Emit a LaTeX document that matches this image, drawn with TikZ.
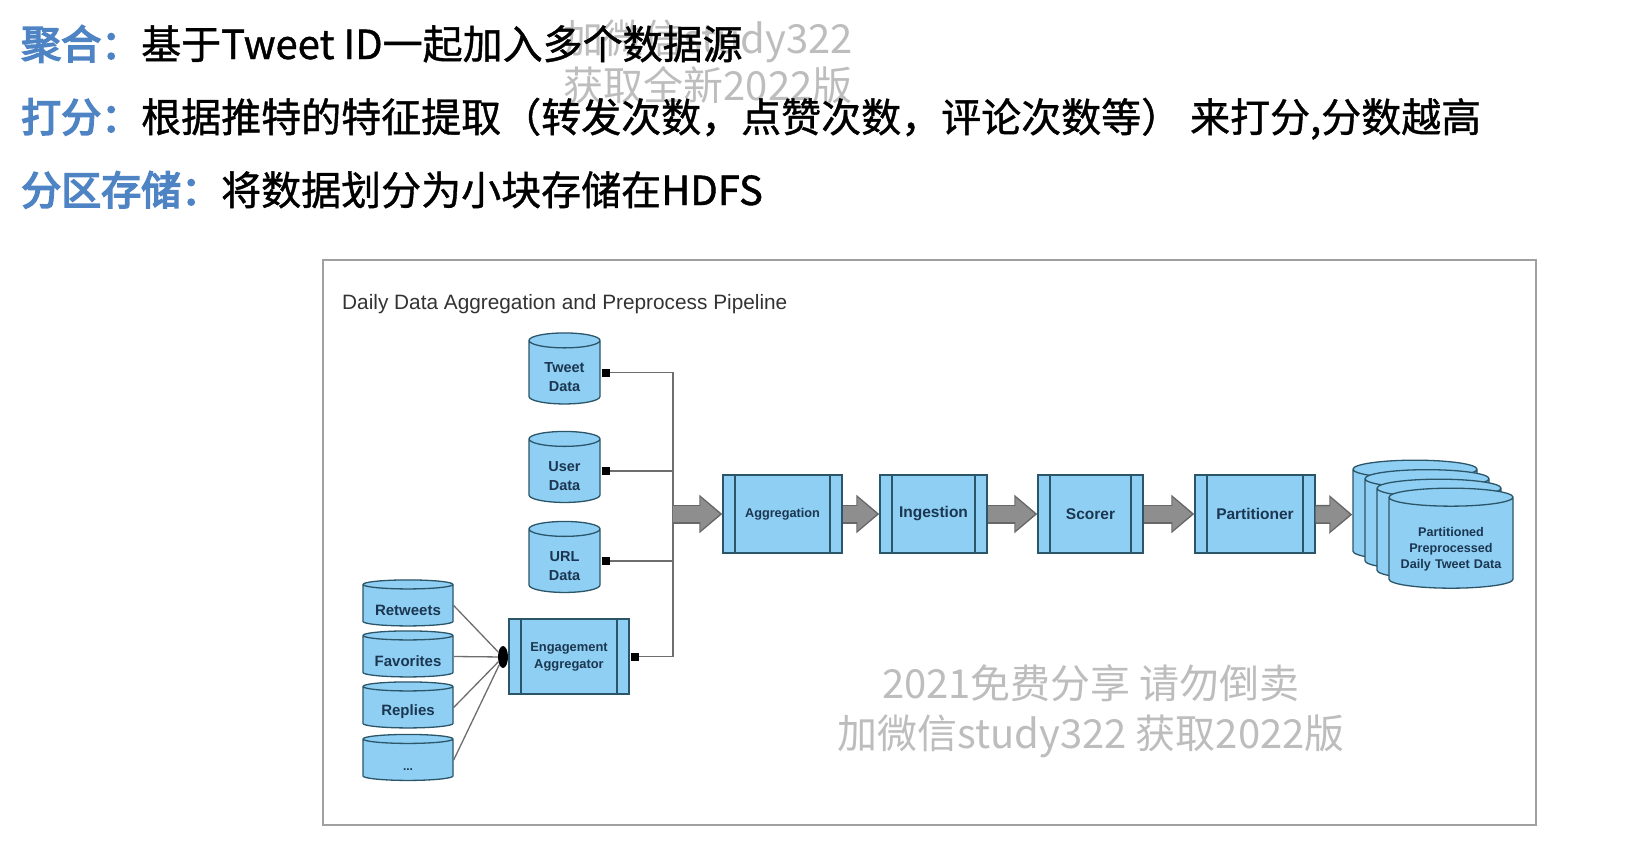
\documentclass[tikz,border=0pt]{standalone}
\usepackage{fontspec}
\setmainfont{Liberation Sans}
\newfontfamily\cjk[FakeBold=1]{Noto Sans CJK SC}
\newfontfamily\cjkbold[FakeBold=4]{Noto Sans CJK SC}
\newfontfamily\cjklight{Noto Sans CJK SC}
\usepackage{xcolor}
\usetikzlibrary{positioning, arrows.meta, shapes.geometric}
\definecolor{boxfill}{HTML}{8FCFF3}
\definecolor{boxline}{HTML}{2B5569}
\definecolor{boxtext}{HTML}{1B3650}
\definecolor{heading}{HTML}{4F84C4}
\definecolor{arrowfill}{HTML}{8E8E8E}
\definecolor{arrowline}{HTML}{676767}
\definecolor{linkgray}{HTML}{6E6E6E}
\definecolor{framegray}{HTML}{A0A0A0}
\definecolor{titlegray}{HTML}{333333}
\definecolor{wmgray}{HTML}{BDBDBD}

\begin{document}
\begin{tikzpicture}[
  x=1pt, y=-1pt,
  headline/.style={anchor=base west, inner sep=0pt, font=\cjk\fontsize{40}{48}\selectfont},
  watermark/.style={text=wmgray, align=center, inner sep=0pt},
  store/.style={cylinder, shape border rotate=90, draw=boxline, line width=1.3pt, fill=boxfill, aspect=0.21, text width=71pt, minimum width=71pt, minimum height=71pt, inner sep=0pt, align=center, text=boxtext, font=\bfseries\fontsize{14.5}{19}\selectfont, execute at begin node={\rule{0pt}{20pt}}},
  smallstore/.style={store, text width=90pt, minimum width=90pt, minimum height=46pt, aspect=0.1, font=\bfseries\fontsize{15}{18}\selectfont, execute at begin node={\rule{0pt}{14pt}}},
  bigstore/.style={store, text width=124pt, minimum width=124pt, minimum height=100pt, aspect=0.145, font=\bfseries\fontsize{12.6}{16}\selectfont, execute at begin node={\rule{0pt}{22pt}}},
  process/.style={rectangle, draw=boxline, line width=1.3pt, fill=boxfill, minimum height=78pt, inner sep=0pt, align=center, text=boxtext, font=\bfseries\fontsize{15.5}{18}\selectfont,
    path picture={\draw[boxline, line width=1.3pt] ([xshift=12pt]path picture bounding box.north west) -- ([xshift=12pt]path picture bounding box.south west) ([xshift=-12pt]path picture bounding box.north east) -- ([xshift=-12pt]path picture bounding box.south east);}},
  port/.style={rectangle, fill=black, minimum size=8pt, inner sep=0pt},
  link/.style={draw=linkgray, line width=1.3pt},
  fatedge/.style={arrowline, line width=19pt, -{Triangle[length=23pt, width=37pt]}},
  fatarrow/.style={arrowfill, line width=16pt, shorten >=2.5pt, -{Triangle[length=19.5pt, width=32pt]}}
]
  \useasboundingbox (0,0) rectangle (1634,846);
  \fill[white] (0,0) rectangle (1634,846);

  \node[watermark, font=\cjklight\fontsize{40}{46.5}\selectfont] (wmtop) at (708,62) {加微信study322\\获取全新2022版};
  \node[headline] (line1) at (21,59) {{\cjkbold\color{heading}聚合：}基于Tweet ID一起加入多个数据源};
  \node[headline] (line2) at (21,132) {{\cjkbold\color{heading}打分：}根据推特的特征提取（转发次数，点赞次数，评论次数等） 来打分,分数越高};
  \node[headline] (line3) at (21,205) {{\cjkbold\color{heading}分区存储：}将数据划分为小块存储在HDFS};

  \draw[framegray, line width=2pt] (323,260) rectangle (1536,825);
  \node[anchor=west, inner sep=0pt, text=titlegray, font=\fontsize{20.8}{24}\selectfont] (title) at (342,304) {Daily Data Aggregation and Preprocess Pipeline};

  \node[store] (tweet) at (564.5,372.5) {Tweet\\Data};
  \node[store] (user) at (564.5,471) {User\\Data};
  \node[store] (url) at (564.5,561) {URL\\Data};
  \node[port, right=1pt of tweet] (tweetport) {};
  \node[port, right=1pt of user] (userport) {};
  \node[port, right=1pt of url] (urlport) {};

  \node[smallstore] (retweets) at (408,605.5) {Retweets};
  \node[smallstore] (favorites) at (408,656.5) {Favorites};
  \node[smallstore] (replies) at (408,707.5) {Replies};
  \node[smallstore] (more) at (408,760) {\fontsize{12}{14}\selectfont...};

  \node[process, minimum width=120pt, minimum height=75pt, font=\bfseries\fontsize{12.9}{17}\selectfont] (eng) at (569,656.5) {Engagement\\Aggregator};
  \node[ellipse, fill=black, minimum width=10pt, minimum height=22pt, inner sep=0pt] (joint) at (503,657) {};
  \node[port, right=1pt of eng] (engport) {};

  \node[process, minimum width=119pt, font=\bfseries\fontsize{12.7}{15}\selectfont] (agg) at (782.5,514) {Aggregation};
  \node[process, minimum width=107pt] (ing) at (933.5,514) {Ingestion};
  \node[process, minimum width=105pt] (sco) at (1090.5,514) {Scorer};
  \node[process, minimum width=120pt] (par) at (1255,514) {Partitioner};

  \node[bigstore] (part1) at (1415,515) {};
  \node[bigstore] (part2) at (1427,524.5) {};
  \node[bigstore] (part3) at (1439,534) {};
  \node[bigstore] (part4) at (1451,543) {Partitioned\\Preprocessed\\Daily Tweet Data};

  \coordinate (bus) at (673,514);
  \draw[link] (tweetport) -| (bus);
  \draw[link] (userport) -| (bus);
  \draw[link] (urlport) -| (bus);
  \draw[link] (engport) -| (bus);
  \draw[link] (retweets.east) -- (joint);
  \draw[link] (favorites.east) -- (joint);
  \draw[link] (replies.east) -- (joint);
  \draw[link] (more.east) -- (joint);

  \draw[fatedge] (bus) -- (agg);
  \draw[fatarrow] (bus) -- (agg);
  \draw[fatedge] (agg) -- (ing);
  \draw[fatarrow] (agg) -- (ing);
  \draw[fatedge] (ing) -- (sco);
  \draw[fatarrow] (ing) -- (sco);
  \draw[fatedge] (sco) -- (par);
  \draw[fatarrow] (sco) -- (par);
  \draw[fatedge] (par) -- (part1);
  \draw[fatarrow] (par) -- (part1);

  \node[watermark, font=\cjklight\fontsize{40}{50}\selectfont] (wmbottom) at (1091,711) {2021免费分享 请勿倒卖\\加微信study322 获取2022版};
\end{tikzpicture}
\end{document}
